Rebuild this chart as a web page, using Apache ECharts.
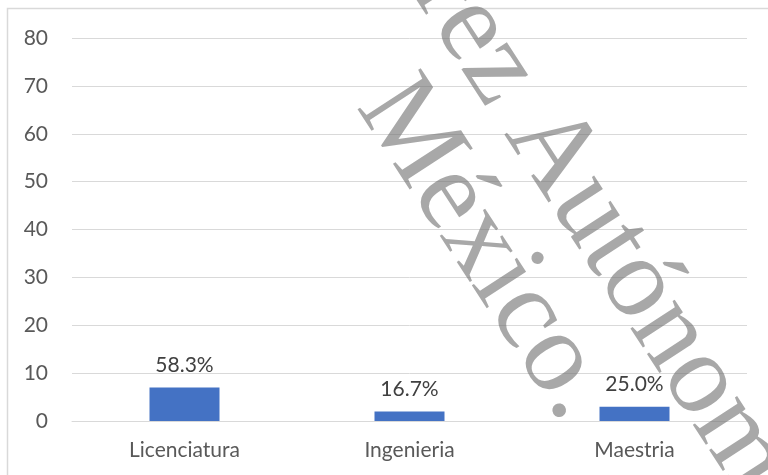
<!DOCTYPE html>
<html>
<head>
<meta charset="utf-8">
<script src="https://cdn.jsdelivr.net/npm/echarts@6/dist/echarts.min.js"></script>
<style>
html,body{margin:0;padding:0;background:#fff;}
#chart{width:768px;height:475px;}
</style>
</head>
<body>
<div id="chart"></div>
<script>
const categories = ["Licenciatura", "Ingenieria", "Maestria"];
const counts = [7, 2, 3];
const percentLabels = ["58.3%", "16.7%", "25.0%"];
const yTicks = { min: 0, max: 80, interval: 10 };

const chart = echarts.init(document.getElementById('chart'), null, { renderer: 'canvas' });
const ang = -57 * Math.PI / 180;
const wmFont = '115px "Liberation Serif"';
const wmFill = 'rgba(110,110,110,0.6)';

chart.setOption({
  animation: false,
  backgroundColor: '#ffffff',
  grid: { left: 72, right: 21, top: 38, bottom: 54, containLabel: false },
  xAxis: {
    type: 'category',
    data: categories,
    axisLine: { show: true, lineStyle: { color: '#d9d9d9', width: 1 } },
    axisTick: { show: false },
    axisLabel: { color: '#595959', fontSize: 21, fontFamily: 'Lato', margin: 19 }
  },
  yAxis: {
    type: 'value',
    min: yTicks.min, max: yTicks.max, interval: yTicks.interval,
    axisLine: { show: false },
    axisTick: { show: false },
    splitLine: { lineStyle: { color: '#d9d9d9', width: 1 } },
    axisLabel: { color: '#595959', fontSize: 21, fontFamily: 'Lato', margin: 24 }
  },
  series: [{
    type: 'bar',
    data: counts,
    barWidth: 70,
    itemStyle: { color: '#4472c4' },
    label: {
      show: true, position: 'top', distance: 12,
      color: '#404040', fontSize: 21, fontFamily: 'Lato',
      formatter: p => percentLabels[p.dataIndex]
    }
  }],
  graphic: [
    { type: 'rect', silent: true, z: 100,
      shape: { x: 7.5, y: 8.5, width: 900, height: 600 },
      style: { fill: 'none', stroke: '#d9d9d9', lineWidth: 1.5 } },
    { type: 'text', silent: true, z: 200, x: 381, y: 90, rotation: ang,
      style: { text: 'México.', font: wmFont, fill: wmFill, align: 'left', verticalAlign: 'middle' } },
    { type: 'text', silent: true, z: 200, x: 529, y: 117, rotation: ang,
      style: { text: 'Autónoma de Tabasco.', font: wmFont, fill: wmFill, align: 'left', verticalAlign: 'middle' } },
    { type: 'text', silent: true, z: 200, x: 513, y: 93, rotation: ang,
      style: { text: 'Universidad Juárez', font: wmFont, fill: wmFill, align: 'right', verticalAlign: 'middle' } }
  ]
});
</script>
</body>
</html>
